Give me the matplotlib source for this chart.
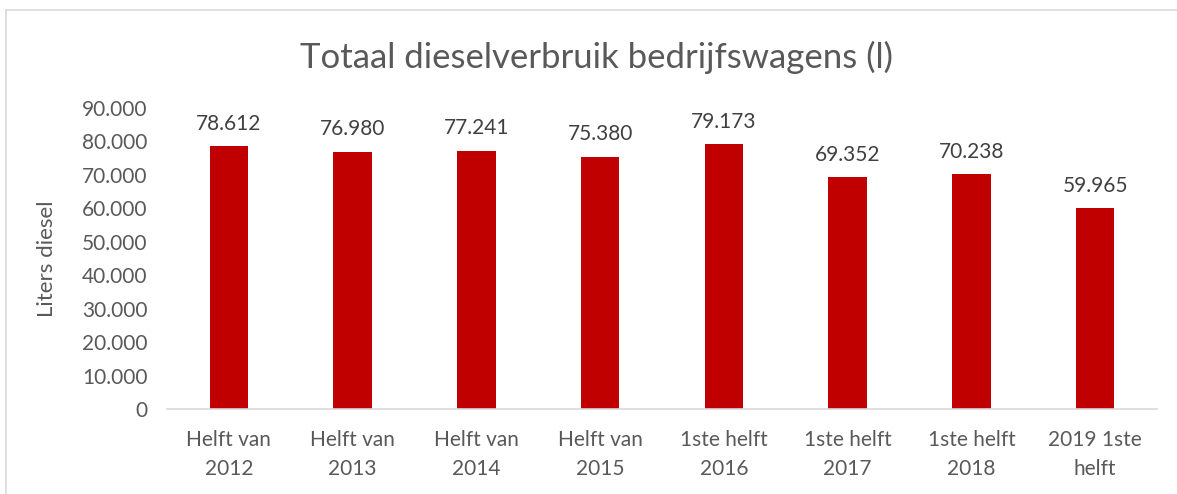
import matplotlib
matplotlib.use("Agg")
import matplotlib.pyplot as plt
from matplotlib.lines import Line2D

categories = ["Helft van\n2012", "Helft van\n2013", "Helft van\n2014", "Helft van\n2015",
              "1ste helft\n2016", "1ste helft\n2017", "1ste helft\n2018", "2019 1ste\nhelft"]
liters = [78612, 76980, 77241, 75380, 79173, 69352, 70238, 59965]
yticks = [0, 10000, 20000, 30000, 40000, 50000, 60000, 70000, 80000, 90000]

plt.rcParams['font.family'] = ['Lato', 'DejaVu Sans']
grey = "#595959"


def dutch(v):
    return f"{v:,}".replace(",", ".")


fig = plt.figure(figsize=(11.77, 4.94), dpi=100)
ax = fig.add_axes([167 / 1177, 85 / 494, 990 / 1177, 301 / 494])

x = list(range(len(categories)))
bars = ax.bar(x, liters, width=0.31, color="#c00000")
ax.bar_label(bars, labels=[dutch(v) for v in liters], padding=9, fontsize=15, color="#404040")

ax.set_xlim(-0.5, len(categories) - 0.5)
ax.set_ylim(0, 90000)
ax.set_yticks(yticks)
ax.set_yticklabels([dutch(v) for v in yticks])
ax.set_xticks(x)
ax.set_xticklabels(categories, linespacing=1.6)
ax.tick_params(axis="both", length=0, labelsize=15, labelcolor=grey)
ax.tick_params(axis="x", pad=15)
ax.tick_params(axis="y", pad=14)

for s in ["top", "right", "left"]:
    ax.spines[s].set_visible(False)
ax.spines["bottom"].set_color("#d9d9d9")
ax.spines["bottom"].set_linewidth(1.2)

ax.set_ylabel("Liters diesel", fontsize=16, color=grey, labelpad=18)
fig.text(597 / 1177, 1 - 57 / 494, "Totaal dieselverbruik bedrijfswagens (l)",
         ha="center", va="center", fontsize=25, color=grey)

# chart frame (only top and left edges visible)
fx = 6 / 1177
fy = 1 - 10 / 494
fig.lines.append(Line2D([fx, fx], [0, fy], transform=fig.transFigure, color="#d9d9d9", lw=1.2))
fig.lines.append(Line2D([fx, 1], [fy, fy], transform=fig.transFigure, color="#d9d9d9", lw=1.2))

fig.savefig("out.png", dpi=100)
